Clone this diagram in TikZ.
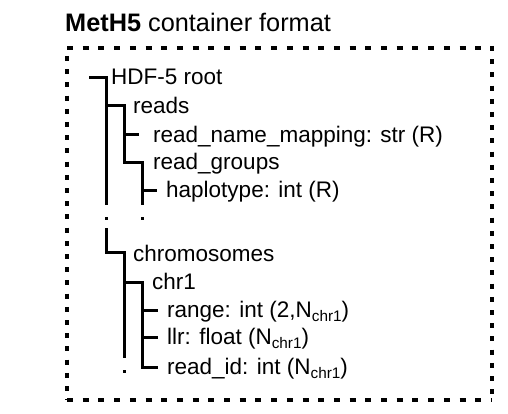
\documentclass[tikz,border=0pt]{standalone}
\usepackage{fontspec}
\setmainfont{Liberation Sans}
\newcommand\subtxt[1]{\raisebox{-0.22em}{\fontsize{15.3}{16}\selectfont #1}}
\begin{document}
\begin{tikzpicture}[x=1pt,y=-1pt,
  tree/.style={line width=3pt, line cap=butt, line join=miter},
  lbl/.style={anchor=base west, inner sep=0pt, font=\fontsize{22.5}{27}\selectfont},
  ttl/.style={anchor=base west, inner sep=0pt, font=\fontsize{25.3}{30}\selectfont},
  boxh/.style={line width=3.5pt, dash pattern=on 6pt off 9.7pt},
  boxv/.style={line width=3.5pt, dash pattern=on 5pt off 8.2pt},
  dotmark/.style={fill=black}]
\useasboundingbox (0,0) rectangle (508,414);

% title
\node[ttl] (title) at (65,32) {\textbf{MetH5} container format};

% dashed frame
\coordinate (bTL) at (67,48);
\coordinate (bTR) at (492,48);
\coordinate (bBR) at (492,400);
\coordinate (bBL) at (67,400);
\draw[boxh] (bTL) -- (bTR);
\draw[boxh] (bBL) -- (bBR);
\draw[boxv] ([yshift=2pt]bTR) -- (bBR);
\draw[boxv] ([yshift=-8pt]bTL) -- (bBL);

% labels
\node[lbl] (root)  at (111,85)  {HDF-5 root};
\node[lbl] (reads) at (133,114) {reads};
\node[lbl] (rnm)   at (153,143) {read\_name\_mapping: str (R)};
\node[lbl] (rg)    at (153,170) {read\_groups};
\node[lbl] (hap)   at (166,197) {haplotype: int (R)};
\node[lbl] (chrs)  at (133,261) {chromosomes};
\node[lbl] (chr1)  at (152,289) {chr1};
\node[lbl] (range) at (167,317) {range: int (2,N\subtxt{chr1})};
\node[lbl] (llr)   at (167,344) {llr: float (N\subtxt{chr1})};
\node[lbl] (rid)   at (167,374) {read\_id: int (N\subtxt{chr1})};

% tree junction points
\coordinate (rootS) at (89,78);
\coordinate (rootE) at (106,205);
\coordinate (readsS) at (106,106);
\coordinate (rgC) at (124,163);
\coordinate (rgE) at (142,205);
\coordinate (rnmS) at (124,135);
\coordinate (rnmE) at (139,135);
\coordinate (hapS) at (142,190);
\coordinate (hapE) at (157,190);
\coordinate (chrsS) at (106,228);
\coordinate (chrsC) at (124,252);
\coordinate (chrsE) at (124,358);
\coordinate (chr1S) at (124,282);
\coordinate (ridC) at (142,367);
\coordinate (ridE) at (158,367);
\coordinate (rangeS) at (142,310);
\coordinate (rangeE) at (158,310);
\coordinate (llrS) at (142,337);
\coordinate (llrE) at (158,337);

% tree connectors
\draw[tree] (rootS) -| (rootE);
\draw[tree] (readsS) -| (rgC) -| (rgE);
\draw[tree] (rnmS) -- (rnmE);
\draw[tree] (hapS) -- (hapE);
\draw[tree] (chrsS) |- (chrsC) -- (chrsE);
\draw[tree] (chr1S) -| (ridC) -- (ridE);
\draw[tree] (rangeS) -- (rangeE);
\draw[tree] (llrS) -- (llrE);

% continuation dots
\fill[dotmark] (104.5,216.5) rectangle (107.5,219.5);
\fill[dotmark] (140.5,216.5) rectangle (143.5,219.5);
\fill[dotmark] (122.5,369.5) rectangle (125.5,372.5);
\end{tikzpicture}
\end{document}
